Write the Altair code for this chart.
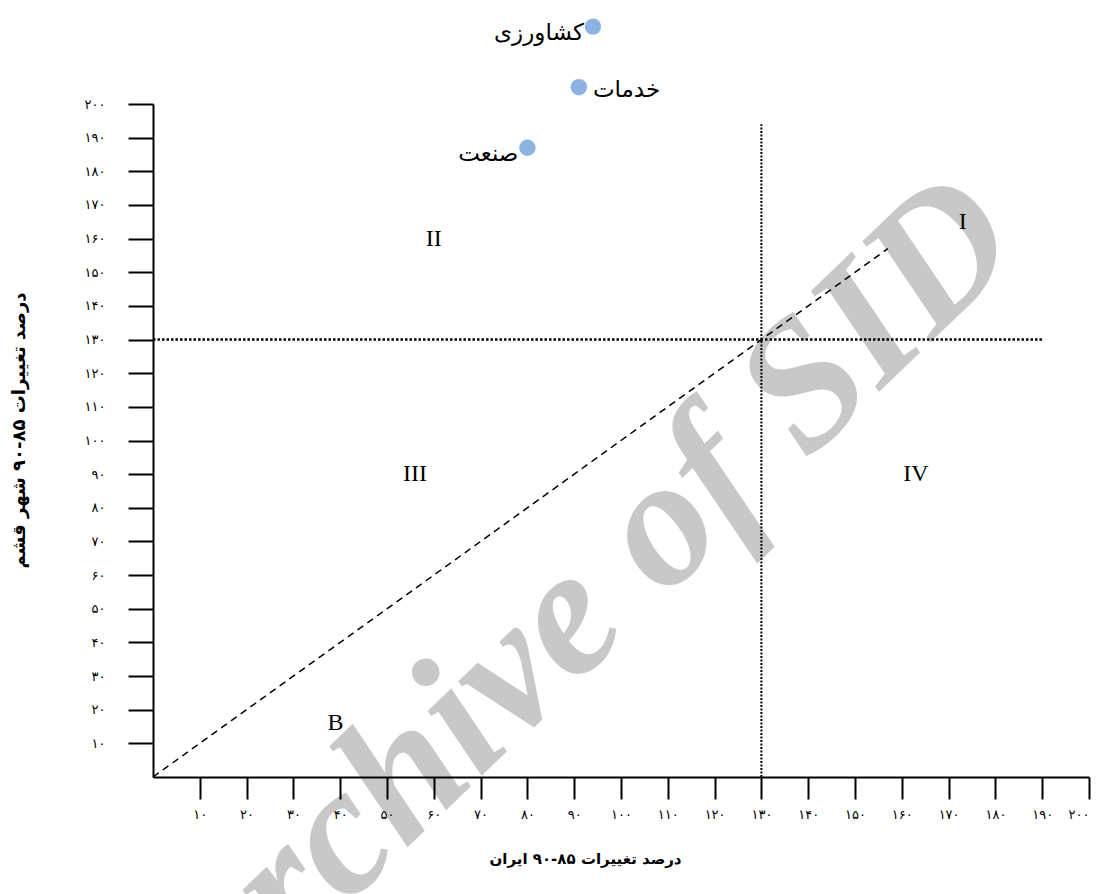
import altair as alt
import pandas as pd

# ---- data ----
sectors = ["کشاورزی", "خدمات", "صنعت"]
iran_change = [94, 91, 80]          # x: درصد تغییرات ایران
qeshm_change = [223, 205, 187]      # y: درصد تغییرات شهر قشم
left_labelled = ["کشاورزی", "صنعت"]

quad_names = ["I", "II", "III", "IV", "B"]
quad_x = [173, 60, 56, 163, 39]
quad_y = [165, 160, 90, 90, 16]

threshold = 130
h_line_end = 190
v_line_end = 194
diag_end = 157

tick_values = list(range(10, 201, 10))
tick_labels = ["۱۰", "۲۰", "۳۰", "۴۰", "۵۰", "۶۰", "۷۰", "۸۰", "۹۰", "۱۰۰",
               "۱۱۰", "۱۲۰", "۱۳۰", "۱۴۰", "۱۵۰", "۱۶۰", "۱۷۰", "۱۸۰", "۱۹۰", "۲۰۰"]

watermark_text = ["Archive of SID"]
watermark_x = [91]
watermark_y = [51]

x_title = "درصد تغییرات ۸۵-۹۰ ایران"
y_title = "درصد تغییرات ۸۵-۹۰ شهر قشم"

# ---- tables ----
pts = pd.DataFrame({"sector": sectors, "x": iran_change, "y": qeshm_change})
quads = pd.DataFrame({"name": quad_names, "x": quad_x, "y": quad_y})
hline = pd.DataFrame({"x": [0], "x2": [h_line_end], "y": [threshold], "y2": [threshold]})
vline = pd.DataFrame({"x": [threshold], "x2": [threshold], "y": [0], "y2": [v_line_end]})
dline = pd.DataFrame({"x": [0], "x2": [diag_end], "y": [0], "y2": [diag_end]})
wm = pd.DataFrame({"t": watermark_text, "x": watermark_x, "y": watermark_y})

label_expr = "[" + ",".join("'" + l + "'" for l in tick_labels) + "][round(datum.value/10)-1]"

xscale = alt.Scale(domain=[0, 200], nice=False, zero=False)
yscale = alt.Scale(domain=[0, 200], nice=False, zero=False)

x_axis = alt.Axis(values=tick_values, labelExpr=label_expr, title=x_title,
                  tickSize=22, labelPadding=9, grid=False, zindex=1,
                  titleX=432, titleY=81, titleBaseline="middle", titleAlign="center",
                  titleFontSize=15)
y_axis = alt.Axis(values=tick_values, labelExpr=label_expr, title=y_title,
                  tickSize=25, labelPadding=23, grid=False, zindex=1,
                  titleX=-134, titleY=326, titleAngle=270,
                  titleBaseline="middle", titleAlign="center", titleFontSize=18)

X = lambda: alt.X("x:Q", scale=xscale, axis=x_axis)
Y = lambda: alt.Y("y:Q", scale=yscale, axis=y_axis)

watermark = alt.Chart(wm).mark_text(
    font="Liberation Serif", fontSize=183, fontWeight="bold", fontStyle="italic",
    color="#c8c8c8", angle=316, align="center", baseline="middle"
).encode(x=X(), y=Y(), text="t:N")

h_rule = alt.Chart(hline).mark_rule(color="black", strokeWidth=2.5, strokeDash=[2.5, 2]).encode(
    x=X(), x2="x2:Q", y=Y(), y2="y2:Q")
v_rule = alt.Chart(vline).mark_rule(color="black", strokeWidth=2, strokeDash=[2, 1.5]).encode(
    x=X(), x2="x2:Q", y=Y(), y2="y2:Q")
d_rule = alt.Chart(dline).mark_rule(color="black", strokeWidth=1.5, strokeDash=[7, 5]).encode(
    x=X(), x2="x2:Q", y=Y(), y2="y2:Q")

quad_text = alt.Chart(quads).mark_text(
    font="Liberation Serif", fontSize=24, color="black", align="center", baseline="middle"
).encode(x=X(), y=Y(), text="name:N")

dots = alt.Chart(pts).mark_circle(size=270, color="#8db3e2", opacity=1).encode(x=X(), y=Y())

lbl_left = alt.Chart(pts).transform_filter(
    alt.FieldOneOfPredicate(field="sector", oneOf=left_labelled)
).mark_text(font="DejaVu Sans", fontSize=23, color="black", align="right",
            baseline="middle", dx=-9, dy=6).encode(x=X(), y=Y(), text="sector:N")
lbl_right = alt.Chart(pts).transform_filter(
    ~alt.FieldOneOfPredicate(field="sector", oneOf=left_labelled)
).mark_text(font="DejaVu Sans", fontSize=23, color="black", align="left",
            baseline="middle", dx=14, dy=3).encode(x=X(), y=Y(), text="sector:N")

chart = alt.layer(watermark, h_rule, v_rule, d_rule, quad_text, dots, lbl_left, lbl_right).properties(
    width=936, height=673,
    autosize=alt.AutoSizeParams(type="none"),
    padding={"left": 153, "top": 104, "right": 16, "bottom": 117},
).configure_view(stroke=None).configure_axis(
    domainColor="black", domainWidth=2, tickColor="black", tickWidth=2,
    labelFont="DejaVu Sans", labelFontSize=13, labelColor="black",
    titleFont="DejaVu Sans", titleFontWeight="bold", titleColor="black",
).configure_axisY(labelAlign="right")

chart.save("out.html", embed_options={"renderer": "svg", "actions": False})
